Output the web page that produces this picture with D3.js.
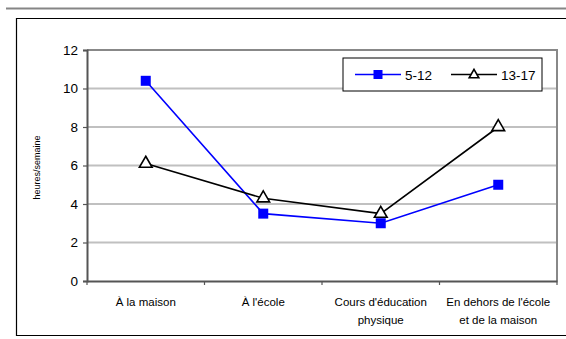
<!DOCTYPE html>
<html>
<head>
<meta charset="utf-8">
<script src="https://cdn.jsdelivr.net/npm/d3@7"></script>
<style>
  html, body { margin: 0; padding: 0; background: #fff; }
  svg { display: block; font-family: "Liberation Sans", Arial, sans-serif; }
</style>
</head>
<body>
<svg id="chart" width="566" height="339"></svg>
<script>
// Hours per week of physical activity by setting, two age groups
const categories = [
  ["À la maison"],
  ["À l'école"],
  ["Cours d'éducation", "physique"],
  ["En dehors de l'école", "et de la maison"]
];
const seriesNames = ["5-12", "13-17"];
const values512 = [10.4, 3.5, 3.0, 5.0];
const values1317 = [6.1, 4.3, 3.5, 8.0];
const yTicks = [0, 2, 4, 6, 8, 10, 12];
const yLabel = "heures/semaine";

const svg = d3.select("#chart");

const plot = { left: 87, right: 557, top: 50, bottom: 281 };

const x = d3.scaleBand()
  .domain(d3.range(categories.length))
  .range([plot.left, plot.right])
  .padding(0);

const y = d3.scaleLinear()
  .domain([0, 12])
  .range([plot.bottom, plot.top]);

// page rule and outer frame
svg.append("line")
  .attr("x1", 6).attr("x2", 566).attr("y1", 8.5).attr("y2", 8.5)
  .attr("stroke", "#858585").attr("stroke-width", 2);
svg.append("path")
  .attr("d", "M566,18.5 H16.5 V335.5 H566")
  .attr("fill", "none").attr("stroke", "#000").attr("stroke-width", 1.2);

// gridlines
svg.append("g")
  .selectAll("line")
  .data(yTicks.filter(d => d > 0 && d < 12))
  .join("line")
  .attr("x1", plot.left).attr("x2", plot.right)
  .attr("y1", d => y(d)).attr("y2", d => y(d))
  .attr("stroke", "#c0c0c0").attr("stroke-width", 2);

// plot area border (top and right)
svg.append("path")
  .attr("d", `M${plot.left},${plot.top} H${plot.right} V${plot.bottom}`)
  .attr("fill", "none").attr("stroke", "#888").attr("stroke-width", 2);

// y axis
const yAxis = svg.append("g")
  .attr("transform", `translate(${plot.left},0)`)
  .call(d3.axisLeft(y).tickValues(yTicks).tickSize(4).tickPadding(5).tickFormat(d3.format("d")));
yAxis.select(".domain").attr("stroke", "#555").attr("stroke-width", 2);
yAxis.selectAll(".tick line").attr("stroke", "#555").attr("stroke-width", 1.2);
yAxis.selectAll(".tick text")
  .attr("font-size", 13.5).attr("fill", "#000")
  .attr("font-family", "Liberation Sans, Arial, sans-serif");

// x axis
const xAxis = svg.append("g")
  .attr("transform", `translate(0,${plot.bottom})`)
  .call(d3.axisBottom(x).tickSize(0).tickFormat(""));
xAxis.select(".domain").attr("stroke", "#555").attr("stroke-width", 2);
xAxis.selectAll(".tick").remove();

// category boundary ticks
const bounds = d3.range(categories.length + 1).map(i =>
  i < categories.length ? x(i) : x(i - 1) + x.bandwidth());
svg.append("g")
  .selectAll("line")
  .data(bounds)
  .join("line")
  .attr("x1", d => d).attr("x2", d => d)
  .attr("y1", plot.bottom).attr("y2", plot.bottom + 4)
  .attr("stroke", "#555").attr("stroke-width", 1.2);

// category labels
const labels = svg.append("g")
  .selectAll("text")
  .data(categories)
  .join("text")
  .attr("x", (d, i) => x(i) + x.bandwidth() / 2)
  .attr("y", 306)
  .attr("text-anchor", "middle")
  .attr("font-size", 11.5)
  .attr("fill", "#000");
labels.selectAll("tspan")
  .data(d => d)
  .join("tspan")
  .attr("x", function () { return d3.select(this.parentNode).attr("x"); })
  .attr("dy", (d, i) => i === 0 ? 0 : 18)
  .text(d => d);

// y axis title
svg.append("text")
  .attr("transform", `translate(40,${(plot.top + plot.bottom) / 2 + 2}) rotate(-90)`)
  .attr("text-anchor", "middle")
  .attr("font-size", 9)
  .attr("fill", "#000")
  .text(yLabel);

// series lines
const line = d3.line()
  .x((d, i) => x(i) + x.bandwidth() / 2)
  .y(d => y(d));

svg.append("path")
  .datum(values512)
  .attr("d", line)
  .attr("fill", "none").attr("stroke", "#0000ff").attr("stroke-width", 1.6);

svg.append("path")
  .datum(values1317)
  .attr("d", line)
  .attr("fill", "none").attr("stroke", "#000").attr("stroke-width", 1.6);

// markers
const sq = 10;
svg.append("g")
  .selectAll("rect")
  .data(values512)
  .join("rect")
  .attr("x", (d, i) => x(i) + x.bandwidth() / 2 - sq / 2)
  .attr("y", d => y(d) - sq / 2)
  .attr("width", sq).attr("height", sq)
  .attr("fill", "#0000ff");

const tri = d3.symbol().type(d3.symbolTriangle).size(70);
svg.append("g")
  .selectAll("path")
  .data(values1317)
  .join("path")
  .attr("d", tri)
  .attr("transform", (d, i) => `translate(${x(i) + x.bandwidth() / 2},${y(d)})`)
  .attr("fill", "#fff").attr("stroke", "#000").attr("stroke-width", 1.6);

// legend
const lg = svg.append("g").attr("transform", "translate(343,58)");
lg.append("rect")
  .attr("width", 199).attr("height", 33)
  .attr("fill", "#fff").attr("stroke", "#000").attr("stroke-width", 1);

const lgItems = [
  { name: seriesNames[0], color: "#0000ff", x0: 12 },
  { name: seriesNames[1], color: "#000", x0: 108 }
];
lgItems.forEach((it, k) => {
  lg.append("line")
    .attr("x1", it.x0).attr("x2", it.x0 + 46)
    .attr("y1", 16.5).attr("y2", 16.5)
    .attr("stroke", it.color).attr("stroke-width", 1.6);
  if (k === 0) {
    lg.append("rect")
      .attr("x", it.x0 + 23 - 4.5).attr("y", 12)
      .attr("width", 9).attr("height", 9)
      .attr("fill", it.color);
  } else {
    lg.append("path")
      .attr("d", d3.symbol().type(d3.symbolTriangle).size(40))
      .attr("transform", `translate(${it.x0 + 23},17)`)
      .attr("fill", "#fff").attr("stroke", "#000").attr("stroke-width", 1.6);
  }
  lg.append("text")
    .attr("x", it.x0 + 50).attr("y", 21.5)
    .attr("font-size", 13.5)
    .attr("fill", "#000")
    .text(it.name);
});
</script>
</body>
</html>
